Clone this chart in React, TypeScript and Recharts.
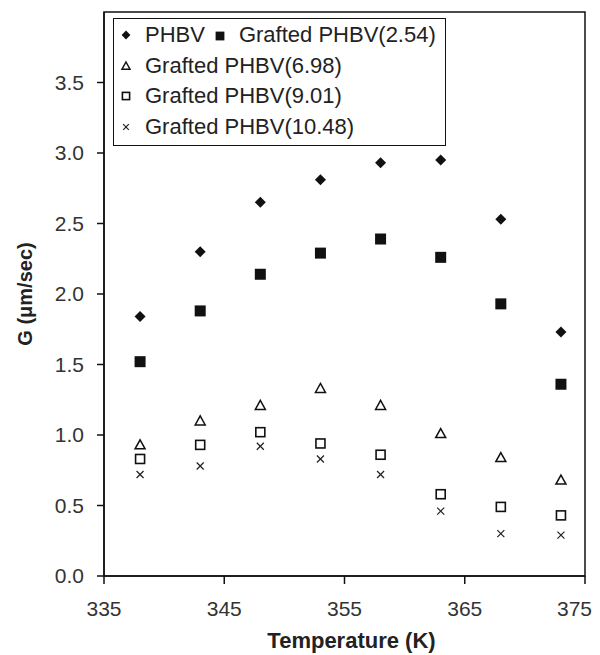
import React from 'react';
import {
  ScatterChart,
  Scatter,
  XAxis,
  YAxis,
  ReferenceArea,
  Legend,
} from 'recharts';

const temps = [338, 343, 348, 353, 358, 363, 368, 373];
const phbv = [1.84, 2.3, 2.65, 2.81, 2.93, 2.95, 2.53, 1.73];
const grafted254 = [1.52, 1.88, 2.14, 2.29, 2.39, 2.26, 1.93, 1.36];
const grafted698 = [0.93, 1.1, 1.21, 1.33, 1.21, 1.01, 0.84, 0.68];
const grafted901 = [0.83, 0.93, 1.02, 0.94, 0.86, 0.58, 0.49, 0.43];
const grafted1048 = [0.72, 0.78, 0.92, 0.83, 0.72, 0.46, 0.3, 0.29];

const xTicks = [335, 345, 355, 365, 375];
const yTicks = [0, 0.5, 1, 1.5, 2, 2.5, 3, 3.5];

const FONT = '"Liberation Sans", Arial, sans-serif';

type Kind = 'diamond' | 'square' | 'triangle' | 'openSquare' | 'cross';

const SERIES: { name: string; kind: Kind; values: number[] }[] = [
  { name: 'PHBV', kind: 'diamond', values: phbv },
  { name: 'Grafted PHBV(2.54)', kind: 'square', values: grafted254 },
  { name: 'Grafted PHBV(6.98)', kind: 'triangle', values: grafted698 },
  { name: 'Grafted PHBV(9.01)', kind: 'openSquare', values: grafted901 },
  { name: 'Grafted PHBV(10.48)', kind: 'cross', values: grafted1048 },
];

function Marker({ kind, cx, cy, s = 1 }: { kind: Kind; cx: number; cy: number; s?: number }) {
  if (kind === 'diamond') {
    const r = 5.5 * s;
    return (
      <polygon
        points={`${cx},${cy - r} ${cx + r},${cy} ${cx},${cy + r} ${cx - r},${cy}`}
        fill="#111"
      />
    );
  }
  if (kind === 'square') {
    const h = 5.5 * s;
    return <rect x={cx - h} y={cy - h} width={h * 2} height={h * 2} fill="#111" />;
  }
  if (kind === 'triangle') {
    const h = 5 * s;
    return (
      <polygon
        points={`${cx},${cy - h} ${cx + h},${cy + h * 0.8} ${cx - h},${cy + h * 0.8}`}
        fill="none"
        stroke="#111"
        strokeWidth={1.5}
      />
    );
  }
  if (kind === 'openSquare') {
    const h = 4.5 * s;
    return (
      <rect
        x={cx - h}
        y={cy - h}
        width={h * 2}
        height={h * 2}
        fill="none"
        stroke="#111"
        strokeWidth={1.6}
      />
    );
  }
  const h = 3.5 * s;
  return (
    <g stroke="#222" strokeWidth={1.2}>
      <line x1={cx - h} y1={cy - h} x2={cx + h} y2={cy + h} />
      <line x1={cx - h} y1={cy + h} x2={cx + h} y2={cy - h} />
    </g>
  );
}

function LegendIcon({ kind }: { kind: Kind }) {
  return (
    <svg width={14} height={14} style={{ display: 'inline-block', verticalAlign: 'middle' }}>
      <Marker kind={kind} cx={7} cy={7} s={0.8} />
    </svg>
  );
}

function LegendBox() {
  const rowStyle: React.CSSProperties = {
    height: 30.5,
    display: 'flex',
    alignItems: 'center',
    whiteSpace: 'nowrap',
  };
  const textStyle: React.CSSProperties = { marginLeft: 12 };
  return (
    <div
      style={{
        position: 'absolute',
        left: 113,
        top: 18,
        width: 333,
        height: 128,
        boxSizing: 'border-box',
        border: '1.5px solid #111',
        background: '#fff',
        fontFamily: FONT,
        fontSize: 22,
        color: '#222',
        padding: '1px 0 0 5px',
      }}
    >
      <div style={rowStyle}>
        <LegendIcon kind="diamond" />
        <span style={textStyle}>{SERIES[0].name}</span>
        <span style={{ marginLeft: 8 }}>
          <LegendIcon kind="square" />
        </span>
        <span style={textStyle}>{SERIES[1].name}</span>
      </div>
      {SERIES.slice(2).map((s) => (
        <div key={s.name} style={rowStyle}>
          <LegendIcon kind={s.kind} />
          <span style={textStyle}>{s.name}</span>
        </div>
      ))}
    </div>
  );
}

// last x label is pulled inside the picture, like the original
function XTick({ x, y, payload }: any) {
  const last = payload.value === xTicks[xTicks.length - 1];
  return (
    <text
      x={last ? 592 : x}
      y={y}
      dy="0.71em"
      textAnchor={last ? 'end' : 'middle'}
      fontSize={21}
      fill="#333"
      fontFamily={FONT}
    >
      {payload.value}
    </text>
  );
}

export default function App() {
  return (
    <div style={{ position: 'absolute', left: 0, top: 0, width: 600, height: 655, background: '#fff' }}>
      <ScatterChart
        width={600}
        height={655}
        margin={{ top: 12, right: 15, left: 0, bottom: 19 }}
      >
        <XAxis
          type="number"
          dataKey="t"
          domain={[335, 375]}
          ticks={xTicks}
          allowDataOverflow
          tickSize={8}
          tickMargin={17}
          height={60}
          axisLine={{ stroke: '#111', strokeWidth: 1.5 }}
          tickLine={{ stroke: '#111', strokeWidth: 1.5 }}
          tick={<XTick />}
          label={{
            value: 'Temperature (K)',
            content: ({ viewBox }: any) => (
              <text
                x={viewBox.x + viewBox.width / 2 + 7}
                y={648}
                textAnchor="middle"
                fontSize={22}
                fontWeight="bold"
                fontFamily={FONT}
                fill="#222"
              >
                Temperature (K)
              </text>
            ),
          }}
        />
        <YAxis
          type="number"
          dataKey="g"
          domain={[0, 4]}
          ticks={yTicks}
          allowDataOverflow
          width={104}
          tickSize={7}
          tickMargin={13}
          tickFormatter={(v: number) => v.toFixed(1)}
          axisLine={{ stroke: '#111', strokeWidth: 1.5 }}
          tickLine={{ stroke: '#111', strokeWidth: 1.5 }}
          tick={{ fontSize: 21, fill: '#333', fontFamily: FONT }}
          label={{
            value: 'G (μm/sec)',
            content: ({ viewBox }: any) => {
              const cy = viewBox.y + viewBox.height / 2;
              return (
                <text
                  x={25}
                  y={cy}
                  transform={`rotate(-90, 25, ${cy})`}
                  textAnchor="middle"
                  dominantBaseline="central"
                  fontSize={20}
                  fontWeight="bold"
                  fontFamily={FONT}
                  fill="#222"
                >
                  G (μm/sec)
                </text>
              );
            },
          }}
        />
        <ReferenceArea
          x1={335}
          x2={375}
          y1={0}
          y2={4}
          fill="none"
          stroke="#111"
          strokeWidth={1.5}
          ifOverflow="visible"
        />
        {SERIES.map((s) => (
          <Scatter
            key={s.name}
            name={s.name}
            data={temps.map((t, i) => ({ t, g: s.values[i] }))}
            isAnimationActive={false}
            shape={(p: any) => <Marker kind={s.kind} cx={p.cx} cy={p.cy} />}
          />
        ))}
        <Legend content={() => <LegendBox />} wrapperStyle={{ position: 'absolute', left: 0, top: 0, width: 0, height: 0 }} />
      </ScatterChart>
    </div>
  );
}
